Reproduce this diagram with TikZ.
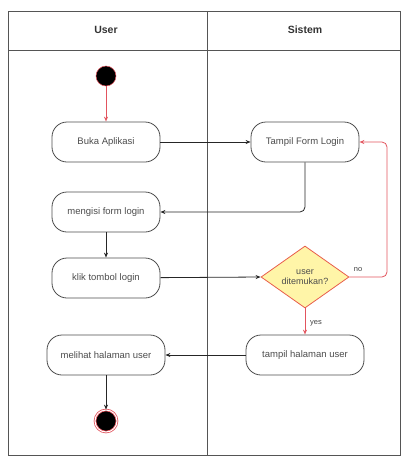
\documentclass[tikz,border=0pt]{standalone}
\usepackage{fontspec}
\setmainfont{Liberation Sans}
\usetikzlibrary{shapes.geometric,arrows.meta}
\definecolor{flowred}{HTML}{E2545E}
\definecolor{decfill}{HTML}{FFF5A8}
\definecolor{lanegray}{HTML}{555555}
\begin{document}
\begin{tikzpicture}[x=1pt,y=-1pt,
  lane/.style={draw=lanegray,line width=0.9pt},
  action/.style={draw=black!70,line width=0.8pt,rounded corners=15pt,minimum width=108pt,minimum height=40pt,inner sep=1pt,font=\fontsize{9.5}{11}\selectfont,text=black!70},
  decision/.style={diamond,aspect=1.4,draw=flowred!80!orange,line width=0.8pt,fill=decfill,minimum width=88pt,minimum height=62pt,inner sep=0pt,align=center,font=\fontsize{9}{10}\selectfont,text=black!70},
  flow/.style={draw=black!85,line width=0.8pt,-{Stealth[length=5pt,width=4pt]}},
  redflow/.style={draw=flowred,line width=0.8pt,-{Stealth[length=5pt,width=4pt,open]}},
  head/.style={font=\fontsize{10.5}{12}\selectfont\bfseries,text=black!80},
  guard/.style={font=\fontsize{7.5}{8}\selectfont,text=black!75}]
\useasboundingbox (0,0) rectangle (401,456);
% swimlane frame
\draw[lane] (8,11) rectangle (400,455);
\draw[lane] (8,50) -- (400,50);
\draw[lane] (207,11) -- (207,455);
\node[head] (hUser) at (106,30) {User};
\node[head] (hSis) at (305,30) {Sistem};
% start / end
\node[circle,fill=black,draw=flowred,line width=0.5pt,minimum size=20pt,inner sep=0pt] (start) at (106,76) {};
\node[circle,fill=black,draw=flowred,double=white,double distance=1pt,line width=0.8pt,minimum size=22pt,inner sep=0pt] (end) at (106,421) {};
% actions
\node[action] (buka) at (106,142) {Buka Aplikasi};
\node[action] (tform) at (305,142) {Tampil Form Login};
\node[action] (isi) at (106,212) {mengisi form login};
\node[action] (klik) at (106,278) {klik tombol login};
\node[decision] (dec) at (305,277) {user\\ditemukan?};
\node[action,minimum width=118pt] (thal) at (305,355) {tampil halaman user};
\node[action,minimum width=118pt] (lihat) at (106,355) {melihat halaman user};
% connectors
\draw[redflow] (start) -- (buka);
\draw[flow] (buka) -- (tform);
\draw[flow,rounded corners=5pt] (tform.south) |- (isi.east);
\draw[flow] (isi) -- (klik);
\draw[flow] (klik) -- (dec.west);
\coordinate (loopc) at (387,277);
\draw[redflow,rounded corners=5pt] (dec.east) -- (loopc) |- (tform.east);
\node[guard] (gno) at (358,270) {no};
\draw[redflow] (dec.south) -- (thal.north);
\node[guard] (gyes) at (316,323) {yes};
\draw[flow] (thal) -- (lihat);
\draw[flow] (lihat) -- (end);
\end{tikzpicture}
\end{document}
